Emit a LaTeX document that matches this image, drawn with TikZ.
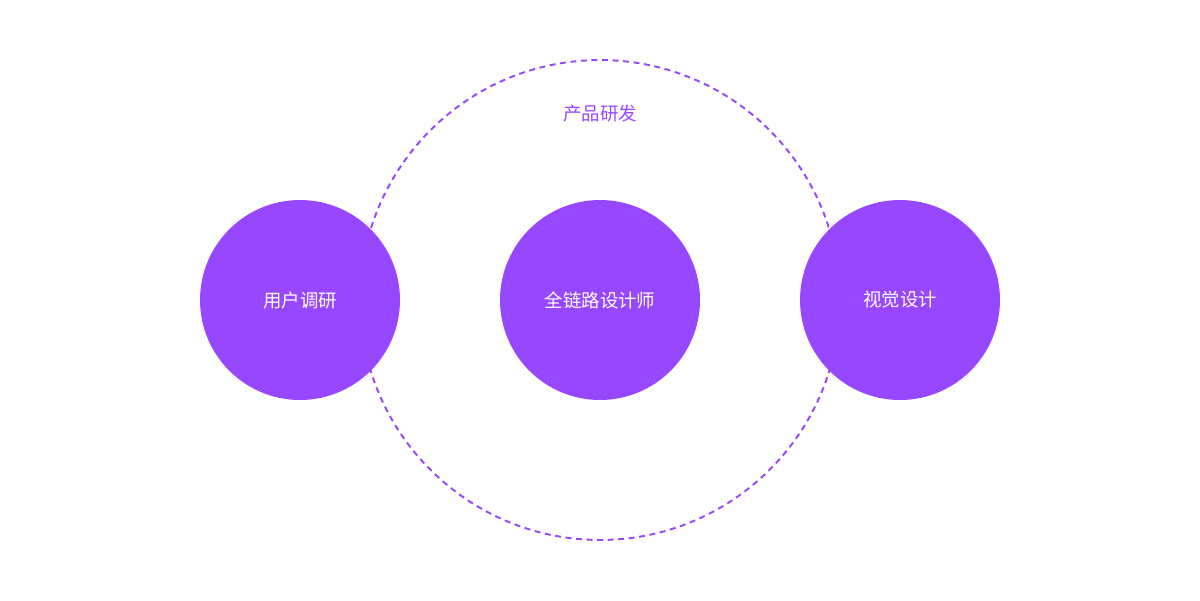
\documentclass[tikz,border=0pt]{standalone}
\usepackage{fontspec}
\newfontfamily\cjk{Noto Sans CJK SC}
\definecolor{pp}{HTML}{9747FF}
\begin{document}
\begin{tikzpicture}[x=0.02cm,y=-0.02cm,
  ball/.style={circle,fill=pp,minimum size=4cm,inner sep=0pt,text=white,font=\cjk\fontsize{10.5}{12}\selectfont},
  ring/.style={draw=pp,line width=1.1pt,dash pattern=on 3.4pt off 2.6pt}]
\useasboundingbox (0,0) rectangle (1200,600);
\node[circle,minimum size=9.6cm,inner sep=0pt,ring] (r) at (600,300) {};
\node[text=pp,font=\cjk\fontsize{10.5}{12}\selectfont] (t) at (600,114) {产品研发};
\node[ball] (a) at (300,300) {用户调研};
\node[ball] (b) at (600,300) {全链路设计师};
\node[ball] (c) at (900,300) {视觉设计};
\end{tikzpicture}
\end{document}
